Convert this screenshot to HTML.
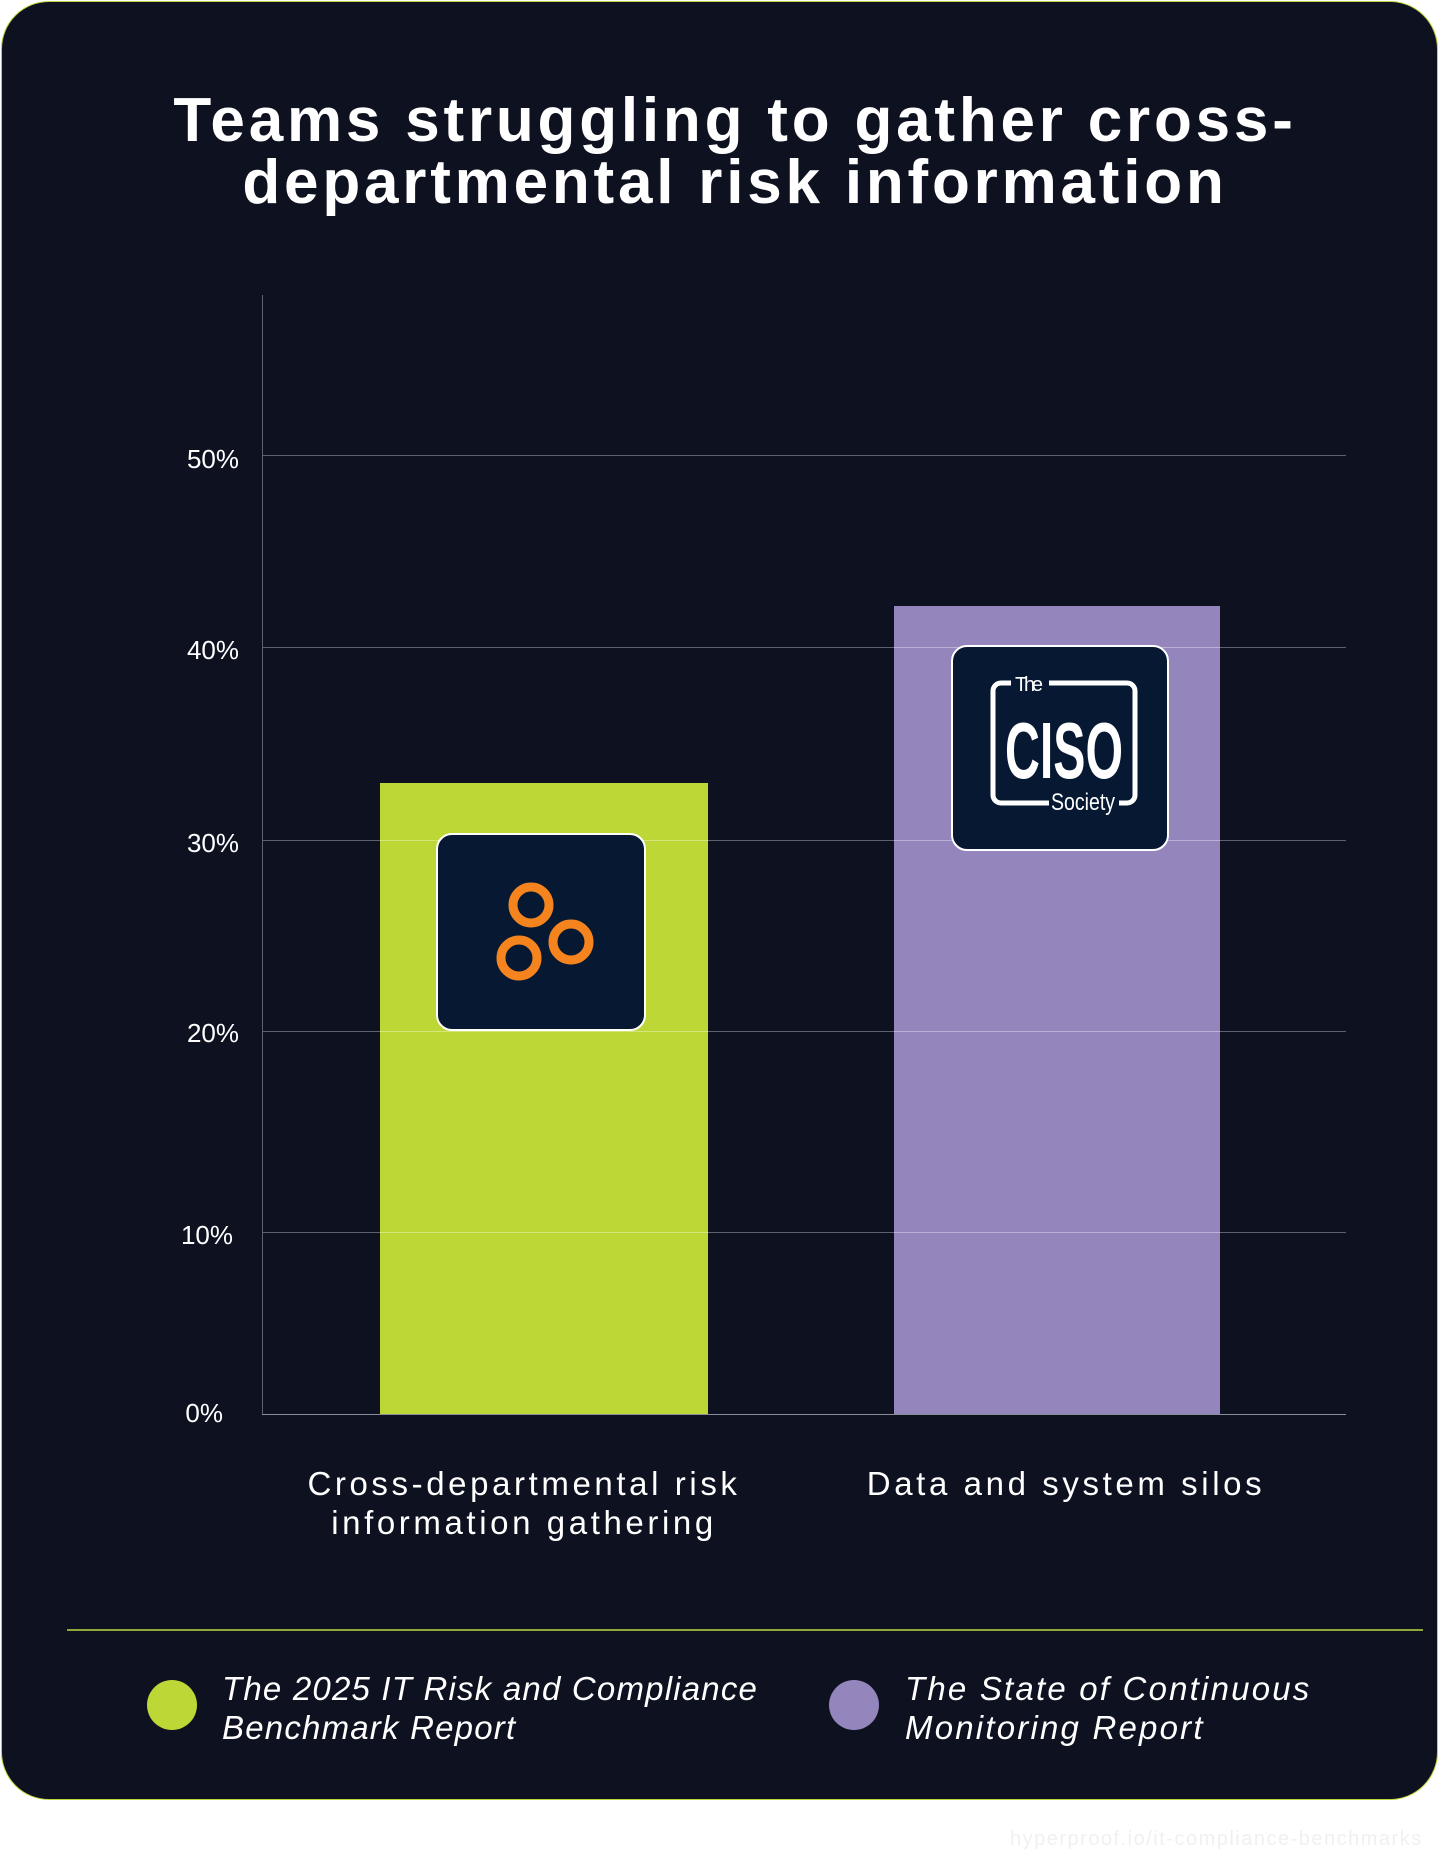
<!DOCTYPE html>
<html><head><meta charset="utf-8"><style>
html,body{margin:0;padding:0;background:#fff;}
body{width:1440px;height:1852px;position:relative;overflow:hidden;font-family:"Liberation Sans",sans-serif;}
.card{position:absolute;left:1px;top:1px;width:1435px;height:1797px;background:#0e1120;border:1.5px solid #bcd63a;border-radius:48px;}
.abs{position:absolute;}
.title{left:0;width:1470px;top:90px;text-align:center;color:#fff;font-weight:bold;font-size:62px;line-height:62px;letter-spacing:3.8px;}
.grid{position:absolute;left:262px;width:1084px;height:1px;background:#5d6070;}
.yl{position:absolute;color:#fff;font-size:26px;width:80px;text-align:right;left:159px;}
.cat{position:absolute;color:#fff;font-size:33px;letter-spacing:3.6px;text-align:center;line-height:39px;}
.leg{position:absolute;color:#fff;font-style:italic;font-size:33px;line-height:39px;letter-spacing:1.2px;}
.dot{position:absolute;width:50px;height:50px;border-radius:50%;}
</style></head><body>
<div class="card"></div>
<div class="abs title">Teams struggling to gather cross-<br>departmental risk information</div>

<div class="abs" style="left:262px;top:295px;width:1px;height:1120px;background:#5d6070;"></div>
<div class="grid" style="top:455px"></div>
<div class="grid" style="top:647px"></div>
<div class="grid" style="top:840px"></div>
<div class="grid" style="top:1031px"></div>
<div class="grid" style="top:1232px"></div>

<div class="abs" style="left:380px;top:783px;width:328px;height:631px;background:#bdd737;"></div>
<div class="abs" style="left:894px;top:606px;width:326px;height:808px;background:#9486bd;"></div>
<div class="grid" style="top:1414px;background:#8a8c98"></div>
<div class="grid" style="top:840px;background:rgba(255,255,255,0.35);left:380px;width:328px"></div>
<div class="grid" style="top:1031px;background:rgba(255,255,255,0.35);left:380px;width:328px"></div>
<div class="grid" style="top:1232px;background:rgba(255,255,255,0.35);left:380px;width:328px"></div>
<div class="grid" style="top:647px;background:rgba(255,255,255,0.35);left:894px;width:326px"></div>
<div class="grid" style="top:840px;background:rgba(255,255,255,0.35);left:894px;width:326px"></div>
<div class="grid" style="top:1031px;background:rgba(255,255,255,0.35);left:894px;width:326px"></div>
<div class="grid" style="top:1232px;background:rgba(255,255,255,0.35);left:894px;width:326px"></div>

<div class="yl" style="top:444px">50%</div>
<div class="yl" style="top:635px">40%</div>
<div class="yl" style="top:828px">30%</div>
<div class="yl" style="top:1018px">20%</div>
<div class="yl" style="top:1220px;left:153px">10%</div>
<div class="yl" style="top:1398px;left:143px">0%</div>

<svg class="abs" style="left:436px;top:833px" width="212" height="200">
<rect x="1" y="1" width="208" height="196" rx="15" fill="#071833" stroke="#fff" stroke-width="2"/>
<g fill="none" stroke="#f5841f" stroke-width="9">
<circle cx="95" cy="72" r="18"/><circle cx="135" cy="109" r="18"/><circle cx="83" cy="125" r="18"/>
</g></svg>

<svg class="abs" style="left:951px;top:645px" width="220" height="208">
<rect x="1" y="1" width="216" height="204" rx="15" fill="#071833" stroke="#fff" stroke-width="2"/>
<path d="M60 38 H50 a8 8 0 0 0 -8 8 V150 a8 8 0 0 0 8 8 H98" fill="none" stroke="#fff" stroke-width="5"/>
<path d="M98 38 H176 a8 8 0 0 1 8 8 V150 a8 8 0 0 1 -8 8 H168" fill="none" stroke="#fff" stroke-width="5"/>
<text x="64" y="46" fill="#fff" font-size="20" font-family="Liberation Sans Narrow,Liberation Sans,sans-serif" textLength="28">The</text>
<text x="54" y="133" fill="#fff" font-size="80" font-weight="bold" font-family="Liberation Sans Narrow,Liberation Sans,sans-serif" textLength="118" lengthAdjust="spacingAndGlyphs">CISO</text>
<text x="100" y="165" fill="#fff" font-size="24" font-family="Liberation Sans Narrow,Liberation Sans,sans-serif" textLength="64" lengthAdjust="spacingAndGlyphs">Society</text>
</svg>

<div class="cat" style="left:224px;width:600px;top:1464px">Cross-departmental risk<br>information gathering</div>
<div class="cat" style="left:766px;width:600px;top:1464px">Data and system silos</div>

<div class="abs" style="left:67px;top:1629px;width:1356px;height:2px;background:#8fa83a;"></div>
<div class="dot" style="left:147px;top:1680px;background:#bdd737"></div>
<div class="dot" style="left:829px;top:1680px;background:#9486bd"></div>
<div class="leg" style="left:222px;top:1669px">The 2025 IT Risk and Compliance<br>Benchmark Report</div>
<div class="leg" style="left:905px;top:1669px;letter-spacing:2.2px">The State of Continuous<br>Monitoring Report</div>

<div class="abs" style="left:1010px;top:1828px;font-size:20px;color:#eef0f2;letter-spacing:1.5px;">hyperproof.io/it-compliance-benchmarks</div>
</body></html>
